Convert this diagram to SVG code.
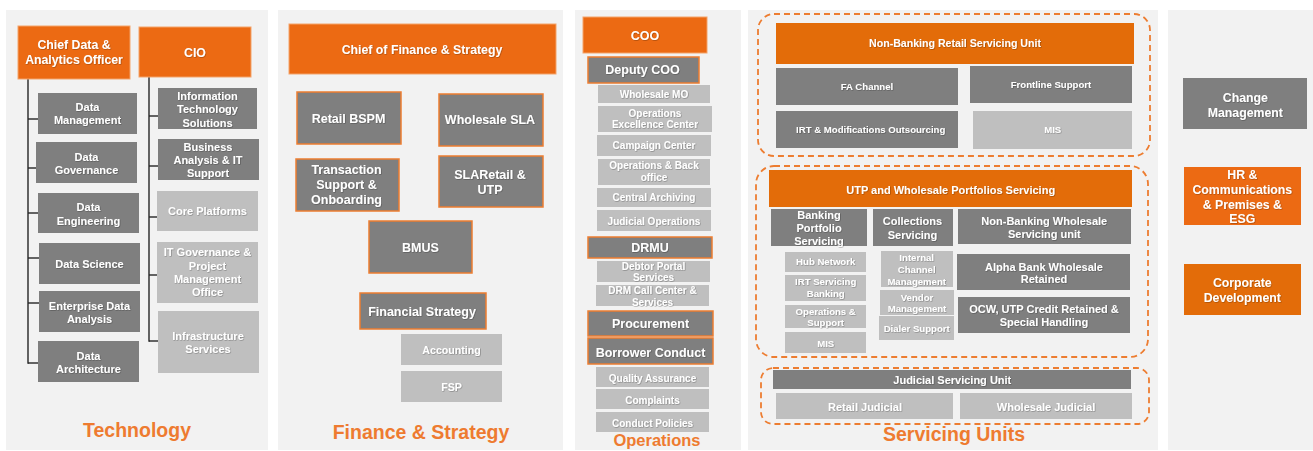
<svg xmlns="http://www.w3.org/2000/svg" width="1313" height="451" viewBox="0 0 1313 451">
  <defs>
    <filter id="sh" x="-5%" y="-20%" width="110%" height="140%">
      <feDropShadow dx="0.6" dy="0.6" stdDeviation="0.4" flood-color="#000" flood-opacity="0.35"/>
    </filter>
  </defs>
  <style>
    .panel { fill: #f2f2f2; }
    .org { fill: #ec6a13; stroke: #f3a36b; stroke-width: 1; }
    .org2 { fill: #e36c09; }
    .dk { fill: #7f7f7f; }
    .dko { fill: #7f7f7f; stroke: #ed7d31; stroke-width: 1.5; }
    .lt { fill: #bfbfbf; }
    .dash { fill: none; stroke: #ed7d31; stroke-width: 1.8; stroke-dasharray: 6 4; }
    .conn line { stroke: #262626; stroke-width: 1.4; }
    text { font-family: "Liberation Sans", Arial, sans-serif; font-weight: bold; text-anchor: middle; }
    .t { fill: #ffffff; filter: url(#sh); }
    .s125 { font-size: 12.5px; }
    .s12 { font-size: 12.3px; }
    .s11 { font-size: 11px; }
    .s105 { font-size: 10.6px; }
    .s10 { font-size: 10px; }
    .s95 { font-size: 9.6px; }
    .title { fill: #ee7b30; font-size: 19.5px; }
  </style>

  <rect width="1313" height="451" fill="#ffffff"/>

  <!-- column backgrounds -->
  <g id="panels">
    <rect class="panel" x="6" y="10" width="262" height="440"/>
    <rect class="panel" x="278" y="10" width="285" height="440"/>
    <rect class="panel" x="575" y="10" width="166" height="440"/>
    <rect class="panel" x="748" y="10" width="410" height="440"/>
    <rect class="panel" x="1168" y="10" width="145" height="440"/>
  </g>

  <!-- reporting lines -->
  <g id="connectors" class="conn">
    <line x1="28" y1="79" x2="28" y2="363.7"/>
    <line x1="28" y1="119" x2="38" y2="119"/>
    <line x1="28" y1="168" x2="36" y2="168"/>
    <line x1="28" y1="213" x2="38" y2="213"/>
    <line x1="28" y1="258" x2="39" y2="258"/>
    <line x1="28" y1="303" x2="39" y2="303"/>
    <line x1="28" y1="363" x2="38" y2="363"/>
    <line x1="149" y1="77" x2="149" y2="341.7"/>
    <line x1="149" y1="116" x2="158" y2="116"/>
    <line x1="149" y1="166" x2="158" y2="166"/>
    <line x1="149" y1="217" x2="157" y2="217"/>
    <line x1="149" y1="275" x2="157" y2="275"/>
    <line x1="149" y1="341" x2="158" y2="341"/>
  </g>

  <!-- Technology -->
  <g id="cdao"><rect class="org" x="18" y="26" width="112" height="53"/>
    <text class="t s12" x="74" y="48.7">Chief Data &amp;</text><text class="t s12" x="74" y="63.5">Analytics Officer</text></g>
  <g id="cio"><rect class="org" x="139" y="27" width="112" height="50"/>
    <text class="t s12" x="195" y="56.5">CIO</text></g>
  <g id="data-management"><rect class="dk" x="38" y="93" width="99" height="41"/>
    <text class="t s11" x="87.5" y="111.2">Data</text><text class="t s11" x="87.5" y="124">Management</text></g>
  <g id="data-governance"><rect class="dk" x="36" y="142" width="101" height="41"/>
    <text class="t s11" x="86.5" y="160.6">Data</text><text class="t s11" x="86.5" y="173.9">Governance</text></g>
  <g id="data-engineering"><rect class="dk" x="38" y="193" width="101" height="40"/>
    <text class="t s11" x="88.5" y="211.2">Data</text><text class="t s11" x="88.5" y="224.9">Engineering</text></g>
  <g id="data-science"><rect class="dk" x="39" y="243" width="101" height="41"/>
    <text class="t s11" x="89.5" y="268.2">Data Science</text></g>
  <g id="enterprise-data-analysis"><rect class="dk" x="39" y="291" width="101" height="41"/>
    <text class="t s11" x="89.5" y="309.9">Enterprise  Data</text><text class="t s11" x="89.5" y="322.9">Analysis</text></g>
  <g id="data-architecture"><rect class="dk" x="38" y="341" width="101" height="41"/>
    <text class="t s11" x="88.5" y="359.9">Data</text><text class="t s11" x="88.5" y="372.9">Architecture</text></g>
  <g id="it-solutions"><rect class="dk" x="158" y="88" width="99" height="41"/>
    <text class="t s11" x="207.5" y="100.2">Information</text><text class="t s11" x="207.5" y="113">Technology</text><text class="t s11" x="207.5" y="126.5">Solutions</text></g>
  <g id="business-analysis"><rect class="dk" x="158" y="139" width="101" height="41"/>
    <text class="t s11" x="208" y="150.6">Business</text><text class="t s11" x="208" y="164.2">Analysis &amp; IT</text><text class="t s11" x="208" y="177.2">Support</text></g>
  <g id="core-platforms"><rect class="lt" x="157" y="191" width="101" height="40"/>
    <text class="t s11" x="207.5" y="215">Core Platforms</text></g>
  <g id="it-governance"><rect class="lt" x="157" y="242" width="101" height="61"/>
    <text class="t s11" x="207.5" y="256.2">IT Governance &amp;</text><text class="t s11" x="207.5" y="269.9">Project</text><text class="t s11" x="207.5" y="283.2">Management</text><text class="t s11" x="207.5" y="295.9">Office</text></g>
  <g id="infrastructure"><rect class="lt" x="158" y="311" width="101" height="62"/>
    <text class="t s11" x="208" y="339.9">Infrastructure</text><text class="t s11" x="208" y="353.2">Services</text></g>
  <text class="title" x="137" y="436.5">Technology</text>

  <!-- Finance & Strategy -->
  <g id="cfs"><rect class="org" x="289" y="24" width="267" height="50"/>
    <text class="t s12" x="422" y="53.5">Chief of Finance &amp; Strategy</text></g>
  <g id="retail-bspm"><rect class="dko" x="297" y="92" width="104" height="52"/>
    <text class="t s125" x="348.5" y="122.5">Retail BSPM</text></g>
  <g id="wholesale-sla"><rect class="dko" x="439" y="94" width="104" height="52"/>
    <text class="t s125" x="490" y="124.3">Wholesale SLA</text></g>
  <g id="transaction-support"><rect class="dko" x="296" y="159" width="103" height="52"/>
    <text class="t s125" x="346.5" y="173.9">Transaction</text><text class="t s125" x="346.5" y="188.7">Support &amp;</text><text class="t s125" x="346.5" y="203.5">Onboarding</text></g>
  <g id="sla-retail-utp"><rect class="dko" x="439" y="156" width="104" height="51"/>
    <text class="t s125" x="490" y="178.5">SLARetail &amp;</text><text class="t s125" x="490" y="193.5">UTP</text></g>
  <g id="bmus"><rect class="dko" x="369" y="221" width="103" height="52"/>
    <text class="t s125" x="420.5" y="251.5">BMUS</text></g>
  <g id="financial-strategy"><rect class="dko" x="360" y="293" width="126" height="36"/>
    <text class="t s125" x="422" y="315.9">Financial Strategy</text></g>
  <g id="accounting"><rect class="lt" x="401" y="334" width="101" height="31"/>
    <text class="t s105" x="451.5" y="353.7">Accounting</text></g>
  <g id="fsp"><rect class="lt" x="401" y="371" width="101" height="31"/>
    <text class="t s105" x="451.5" y="391.4">FSP</text></g>
  <text class="title" x="421" y="438.5">Finance &amp; Strategy</text>

  <!-- Operations -->
  <g id="coo"><rect class="org" x="583" y="17" width="124" height="36"/>
    <text class="t s125" x="645" y="40">COO</text></g>
  <g id="deputy-coo"><rect class="dko" x="588" y="57" width="111" height="26"/>
    <text class="t s125" x="642.5" y="74.3">Deputy COO</text></g>
  <g id="wholesale-mo"><rect class="lt" x="598" y="85" width="112" height="18"/>
    <text class="t s10" x="654" y="97.8">Wholesale MO</text></g>
  <g id="ops-excellence"><rect class="lt" x="598" y="106" width="114" height="26"/>
    <text class="t s10" x="655" y="116.5">Operations</text><text class="t s10" x="655" y="127.8">Excellence Center</text></g>
  <g id="campaign-center"><rect class="lt" x="597" y="135" width="114" height="21"/>
    <text class="t s10" x="654" y="149.2">Campaign Center</text></g>
  <g id="ops-back-office"><rect class="lt" x="598" y="159" width="112" height="26"/>
    <text class="t s10" x="654" y="169.2">Operations &amp; Back</text><text class="t s10" x="654" y="180.8">office</text></g>
  <g id="central-archiving"><rect class="lt" x="597" y="188" width="114" height="19"/>
    <text class="t s10" x="654" y="200.8">Central Archiving</text></g>
  <g id="judicial-operations"><rect class="lt" x="597" y="210" width="114" height="21"/>
    <text class="t s10" x="654" y="224.8">Judicial Operations</text></g>
  <g id="drmu"><rect class="dko" x="588" y="237" width="124" height="21"/>
    <text class="t s125" x="650" y="251.8">DRMU</text></g>
  <g id="debtor-portal"><rect class="lt" x="597" y="261" width="113" height="21"/>
    <text class="t s10" x="653.5" y="270.2">Debtor Portal</text><text class="t s10" x="653.5" y="280.8">Services</text></g>
  <g id="drm-call-center"><rect class="lt" x="596" y="285" width="113" height="21"/>
    <text class="t s10" x="652.5" y="293.8">DRM Call Center &amp;</text><text class="t s10" x="652.5" y="306">Services</text></g>
  <g id="procurement"><rect class="dko" x="588" y="311" width="125" height="25"/>
    <text class="t s125" x="650.5" y="327.6">Procurement</text></g>
  <g id="borrower-conduct"><rect class="dko" x="588" y="338" width="125" height="26"/>
    <text class="t s125" x="650.5" y="356.6">Borrower Conduct</text></g>
  <g id="quality-assurance"><rect class="lt" x="596" y="367" width="113" height="20"/>
    <text class="t s10" x="652.5" y="382.2">Quality Assurance</text></g>
  <g id="complaints"><rect class="lt" x="596" y="389" width="113" height="20"/>
    <text class="t s10" x="652.5" y="403.8">Complaints</text></g>
  <g id="conduct-policies"><rect class="lt" x="596" y="412" width="113" height="20"/>
    <text class="t s10" x="652.5" y="426.8">Conduct Policies</text></g>
  <text class="title" x="657" y="446" style="font-size:16.5px">Operations</text>

  <!-- Servicing Units -->
  <g id="retail-servicing-group">
    <rect class="dash" x="758" y="14" width="392" height="142" rx="16"/>
  </g>
  <g id="nbrsu"><rect class="org2" x="776" y="23" width="358" height="41"/>
    <text class="t s105" x="955" y="47.4">Non-Banking Retail Servicing Unit</text></g>
  <g id="fa-channel"><rect class="dk" x="776" y="68" width="182" height="37"/>
    <text class="t s95" x="867" y="89.6">FA Channel</text></g>
  <g id="frontline-support"><rect class="dk" x="970" y="66" width="162" height="37"/>
    <text class="t s95" x="1051" y="87.6">Frontline Support</text></g>
  <g id="irt-modifications"><rect class="dk" x="776" y="111" width="182" height="37"/>
    <text class="t s95" x="870.7" y="132.6">IRT &amp; Modifications Outsourcing</text></g>
  <g id="mis-retail"><rect class="lt" x="973" y="111" width="159" height="38"/>
    <text class="t s95" x="1052.7" y="133.3">MIS</text></g>

  <g id="utp-wholesale-group">
    <rect class="dash" x="756" y="166" width="392" height="191" rx="18"/>
  </g>
  <g id="utp-wholesale"><rect class="org2" x="769" y="170" width="363" height="37"/>
    <text class="t s11" x="950.7" y="193.9">UTP and Wholesale Portfolios Servicing</text></g>
  <g id="banking-portfolio"><rect class="dk" x="771" y="209" width="96" height="37"/>
    <text class="t s11" x="819" y="219.2">Banking</text><text class="t s11" x="819" y="231.9">Portfolio</text><text class="t s11" x="819" y="244.6">Servicing</text></g>
  <g id="collections"><rect class="dk" x="873" y="209" width="80" height="37"/>
    <text class="t s11" x="912.5" y="224.9">Collections</text><text class="t s11" x="912.5" y="239.2">Servicing</text></g>
  <g id="nbwsu"><rect class="dk" x="958" y="209" width="173" height="35"/>
    <text class="t s11" x="1044.3" y="225.2">Non-Banking Wholesale</text><text class="t s11" x="1044.3" y="237.6">Servicing unit</text></g>
  <g id="hub-network"><rect class="lt" x="785" y="252" width="81" height="20"/>
    <text class="t s95" x="825.7" y="264.7">Hub Network</text></g>
  <g id="irt-servicing"><rect class="lt" x="785" y="275" width="81" height="26"/>
    <text class="t s95" x="825.7" y="285">IRT Servicing</text><text class="t s95" x="825.7" y="297">Banking</text></g>
  <g id="ops-support"><rect class="lt" x="785" y="305" width="81" height="23"/>
    <text class="t s95" x="825.7" y="315.3">Operations &amp;</text><text class="t s95" x="825.7" y="326.3">Support</text></g>
  <g id="mis-banking"><rect class="lt" x="785" y="332" width="81" height="21"/>
    <text class="t s95" x="825.7" y="346.6">MIS</text></g>
  <g id="internal-channel"><rect class="lt" x="881" y="251" width="72" height="36"/>
    <text class="t s95" x="916.7" y="261">Internal</text><text class="t s95" x="916.7" y="273">Channel</text><text class="t s95" x="916.7" y="284.6">Management</text></g>
  <g id="vendor-management"><rect class="lt" x="880" y="290" width="74" height="25"/>
    <text class="t s95" x="917" y="301">Vendor</text><text class="t s95" x="917" y="312">Management</text></g>
  <g id="dialer-support"><rect class="lt" x="879" y="316" width="75" height="24"/>
    <text class="t s95" x="916.7" y="332">Dialer Support</text></g>
  <g id="alpha-bank-wholesale"><rect class="dk" x="957" y="254" width="173" height="36"/>
    <text class="t s11" x="1044" y="270.6">Alpha Bank Wholesale</text><text class="t s11" x="1044" y="282.9">Retained</text></g>
  <g id="ocw-utp"><rect class="dk" x="958" y="297" width="172" height="36"/>
    <text class="t s11" x="1044" y="312.9">OCW, UTP Credit Retained &amp;</text><text class="t s11" x="1044" y="326.2">Special Handling</text></g>

  <g id="judicial-group">
    <rect class="dash" x="761" y="368" width="388" height="56" rx="12"/>
  </g>
  <g id="jsu"><rect class="dk" x="773" y="370" width="358" height="19"/>
    <text class="t s11" x="952.3" y="383.9">Judicial Servicing Unit</text></g>
  <g id="retail-judicial"><rect class="lt" x="776" y="393" width="177" height="26"/>
    <text class="t s11" x="865" y="410.9">Retail Judicial</text></g>
  <g id="wholesale-judicial"><rect class="lt" x="960" y="393" width="172" height="26"/>
    <text class="t s11" x="1046" y="410.9">Wholesale Judicial</text></g>
  <text class="title" x="954" y="441">Servicing Units</text>

  <!-- Staff functions -->
  <g id="change-management"><rect class="dk" x="1183" y="78" width="124" height="51"/>
    <text class="t s12" x="1245.3" y="102.2">Change</text><text class="t s12" x="1245.3" y="116.9">Management</text></g>
  <g id="hr-communications"><rect class="org" x="1184" y="167" width="117" height="58" style="stroke:none"/>
    <text class="t s12" x="1242.3" y="179.2">HR &amp;</text><text class="t s12" x="1242.3" y="194.2">Communications</text><text class="t s12" x="1242.3" y="209.2">&amp; Premises &amp;</text><text class="t s12" x="1242.3" y="223.2">ESG</text></g>
  <g id="corporate-development"><rect class="org2" x="1184" y="264" width="117" height="51"/>
    <text class="t s12" x="1242.3" y="287.2">Corporate</text><text class="t s12" x="1242.3" y="301.5">Development</text></g>
</svg>
